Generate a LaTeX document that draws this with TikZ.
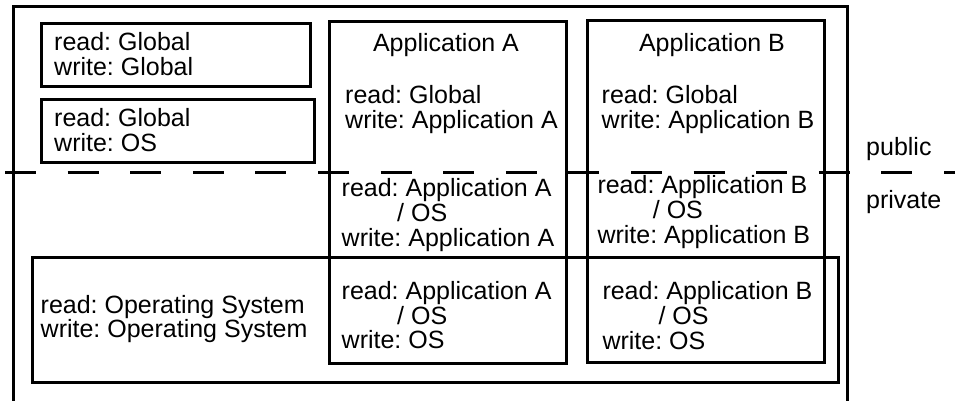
\documentclass[tikz,border=0pt]{standalone}
\usepackage{fontspec}
\setmainfont{Liberation Sans}
\frenchspacing
\begin{document}
\begin{tikzpicture}[x=1pt,y=-1pt,
  frame/.style={draw, line width=3pt, inner sep=0pt, rectangle},
  txt/.style={anchor=base west, inner sep=0pt, font=\fontsize{25pt}{25pt}\selectfont},
  ttl/.style={anchor=base, inner sep=0pt, font=\fontsize{25pt}{25pt}\selectfont},
  divider/.style={line width=3pt, dash pattern=on 31pt off 31.6pt}]
\useasboundingbox (0,0) rectangle (955,400);

% outer frame (its lower edge lies just below the page border)
\node[frame, minimum width=834.2pt, minimum height=397pt] (outer) at (430.6,204.5) {};

% global areas
\node[frame, minimum width=268.6pt, minimum height=62.8pt] (gg) at (176,55.1) {};
\node[txt] (gg1) at (54,50.5) {read: Global};
\node[txt] (gg2) at (54,75) {write: Global};

\node[frame, minimum width=272.3pt, minimum height=62.8pt] (gos) at (177.85,130.6) {};
\node[txt] (gos1) at (54,126.5) {read: Global};
\node[txt] (gos2) at (54,151) {write: OS};

% operating system area
\node[frame, minimum width=805.6pt, minimum height=125pt] (os) at (435.5,320.2) {};
\node[txt] (os1) at (40.5,313.3) {read: Operating System};
\node[txt] (os2) at (40.5,337.7) {write: Operating System};

% application A
\node[frame, minimum width=236.7pt, minimum height=342pt] (appA) at (447.85,192) {};
\node[ttl] (appAt) at (446,51.7) {Application A};
\node[txt] (aP1) at (345,103.3) {read: Global};
\node[txt] (aP2) at (345,128.3) {write: Application A};
\node[txt] (aQ1) at (341.5,196) {read: Application A};
\node[txt] (aQ2) at (397,221) {/ OS};
\node[txt] (aQ3) at (341.5,246) {write: Application A};
\node[txt] (aR1) at (341.5,299.3) {read: Application A};
\node[txt] (aR2) at (397,324) {/ OS};
\node[txt] (aR3) at (341.5,348.5) {write: OS};

% application B
\node[frame, minimum width=236.3pt, minimum height=342pt] (appB) at (705.85,191.3) {};
\node[ttl] (appBt) at (712,51.7) {Application B};
\node[txt] (bP1) at (601.5,103.3) {read: Global};
\node[txt] (bP2) at (601.5,128.3) {write: Application B};
\node[txt] (bQ1) at (597.3,193.3) {read: Application B};
\node[txt] (bQ2) at (652.7,218.3) {/ OS};
\node[txt] (bQ3) at (597.3,243.3) {write: Application B};
\node[txt] (bR1) at (602.3,299.3) {read: Application B};
\node[txt] (bR2) at (658.3,324) {/ OS};
\node[txt] (bR3) at (602.3,349) {write: OS};

% public / private boundary
\coordinate (divL) at (5,172.3);
\coordinate (divR) at (955,172.3);
\draw[divider] (divL) -- (divR);
\node[txt] (pub) at (866,155) {public};
\node[txt] (priv) at (866,208.3) {private};
\end{tikzpicture}
\end{document}
